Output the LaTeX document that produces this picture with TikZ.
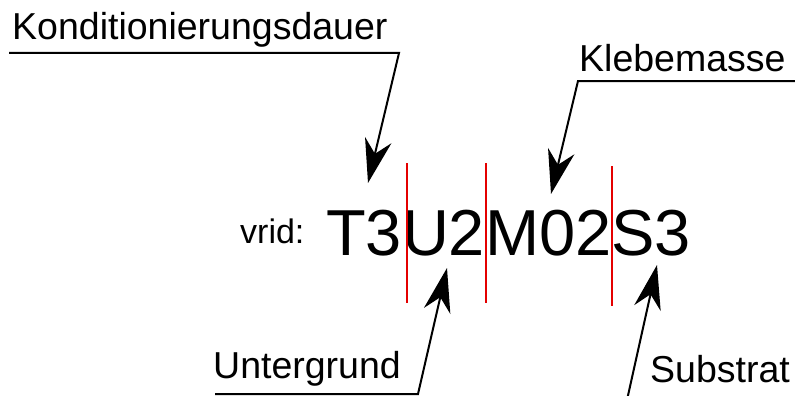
\documentclass[tikz,border=0pt]{standalone}
\usepackage{fontspec}
\setmainfont{Liberation Sans}
\usetikzlibrary{arrows.meta}
\begin{document}
\begin{tikzpicture}[x=1pt,y=-1pt,
  lbl/.style={anchor=base west,inner sep=0pt,font=\fontsize{37.5}{40}\selectfont},
  code/.style={anchor=base west,inner sep=0pt,font=\fontsize{65}{70}\selectfont},
  small/.style={anchor=base west,inner sep=0pt,font=\fontsize{34}{38}\selectfont},
  conn/.style={line width=2pt,-{Stealth[length=44pt,width=27pt,inset=14pt]}},
  sep/.style={draw={rgb,255:red,228;green,0;blue,0},line width=2pt}]
\useasboundingbox (0,0) rectangle (795,396);
% texts
\node[small] (vrid) at (240,243) {vrid:};
\node[code] (code) at (326,255) {T3U2M02S3};
\node[lbl] (kond) at (12,40) {Konditionierungsdauer};
\node[lbl] (kleb) at (579,72) {Klebemasse};
\node[lbl] (unt) at (213,378) {Untergrund};
\node[lbl] (sub) at (650,382) {Substrat};
% separators
\coordinate (s1t) at (407,163); \coordinate (s1b) at (407,303);
\coordinate (s2t) at (486,163); \coordinate (s2b) at (486,303);
\coordinate (s3t) at (612,166); \coordinate (s3b) at (612,306);
\draw[sep] (s1t) -- (s1b);
\draw[sep] (s2t) -- (s2b);
\draw[sep] (s3t) -- (s3b);
% leader points
\coordinate (k0) at (9,53); \coordinate (k1) at (399,53); \coordinate (kt) at (368,183);
\coordinate (m0) at (795,81); \coordinate (m1) at (578,81); \coordinate (mt) at (551,194);
\coordinate (u0) at (215,394); \coordinate (u1) at (418,394); \coordinate (ut) at (447,268);
\coordinate (b0) at (627,400); \coordinate (bt) at (657,265);
\draw[conn] (k0) -- (k1) -- (kt);
\draw[conn] (m0) -- (m1) -- (mt);
\draw[conn] (u0) -- (u1) -- (ut);
\draw[conn] (b0) -- (bt);
\end{tikzpicture}
\end{document}
